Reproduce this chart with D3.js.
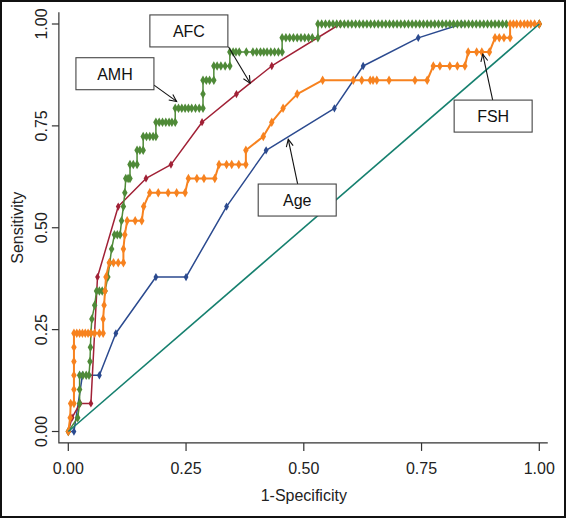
<!DOCTYPE html>
<html>
<head>
<meta charset="utf-8">
<script src="https://cdn.jsdelivr.net/npm/d3@7"></script>
<style>
html,body{margin:0;padding:0;background:#fff;}
svg{display:block;font-family:"Liberation Sans",Arial,sans-serif;}
</style>
</head>
<body>
<svg id="chart" width="566" height="518"></svg>
<script>
// ---- data ----
const xTicks = [0, 0.25, 0.5, 0.75, 1];
const yTicks = [0, 0.25, 0.5, 0.75, 1];
const xTickLabels = ["0.00", "0.25", "0.50", "0.75", "1.00"];
const yTickLabels = ["0.00", "0.25", "0.50", "0.75", "1.00"];
const xTitle = "1-Specificity";
const yTitle = "Sensitivity";

const reference = [[0,0],[1,1]];

const age = [[0,0],[0.012,0],[0.03,0.138],[0.066,0.138],[0.101,0.241],[0.186,0.379],[0.25,0.379],
  [0.336,0.552],[0.42,0.690],[0.565,0.793],[0.626,0.897],[0.743,0.966],[0.835,1.0],[1,1]];

const afc = [[0,0],[0.008,0.034],[0.025,0.069],[0.048,0.069],[0.062,0.379],[0.106,0.552],[0.165,0.621],
  [0.218,0.655],[0.284,0.759],[0.357,0.828],[0.432,0.897],[0.577,1.0],[1,1]];

const amh = [[0,0],[0.02,0.034],[0.024,0.069],[0.024,0.103],[0.024,0.138],[0.031,0.138],[0.038,0.138],[0.044,0.138],
  [0.046,0.172],[0.047,0.207],[0.048,0.241],[0.050,0.276],[0.056,0.310],[0.060,0.345],[0.066,0.345],[0.072,0.345],[0.078,0.345],
  [0.084,0.379],[0.088,0.414],[0.092,0.448],[0.098,0.483],[0.104,0.483],[0.110,0.483],[0.113,0.517],[0.117,0.552],
  [0.120,0.586],[0.122,0.621],[0.127,0.621],[0.131,0.621],[0.131,0.655],[0.138,0.655],[0.146,0.655],[0.146,0.690],
  [0.152,0.690],[0.159,0.690],[0.159,0.724],[0.166,0.724],[0.173,0.724],[0.180,0.724],[0.186,0.724],[0.186,0.759],
  [0.193,0.759],[0.200,0.759],[0.207,0.759],[0.214,0.759],[0.220,0.759],[0.227,0.759],[0.227,0.793],[0.234,0.793],
  [0.241,0.793],[0.248,0.793],[0.255,0.793],[0.262,0.793],[0.270,0.793],[0.278,0.793],[0.286,0.793],[0.286,0.828],
  [0.286,0.862],[0.293,0.862],[0.300,0.862],[0.309,0.862],[0.309,0.897],[0.316,0.897],[0.324,0.897],[0.333,0.897],
  [0.343,0.897],[0.343,0.931],[0.350,0.931],[0.356,0.931],[0.363,0.931],[0.378,0.931],[0.392,0.931],[0.400,0.931],
  [0.408,0.931],[0.415,0.931],[0.422,0.931],[0.430,0.931],[0.438,0.931],[0.446,0.931],[0.454,0.931],[0.454,0.966],
  [0.462,0.966],[0.470,0.966],[0.478,0.966],[0.486,0.966],[0.494,0.966],[0.502,0.966],[0.510,0.966],[0.518,0.966],
  [0.530,0.966],[0.530,1.0],[0.538,1],[0.546,1],[0.554,1],[0.562,1],[0.570,1],[0.578,1],[0.586,1],[0.594,1],
  [0.602,1],[0.610,1],[0.618,1],[0.626,1],[0.634,1],[0.642,1],[0.650,1],[0.658,1],[0.666,1],[0.674,1],[0.682,1],
  [0.690,1],[0.698,1],[0.706,1],[0.714,1],[0.722,1],[0.730,1],[0.738,1],[0.746,1],[0.754,1],[0.762,1],[0.770,1],
  [0.778,1],[0.786,1],[0.794,1],[0.802,1],[0.810,1],[0.818,1],[0.826,1],[0.834,1],[0.842,1],[0.850,1],[0.858,1],
  [0.866,1],[0.874,1],[0.882,1],[0.890,1],[0.898,1],[0.906,1],[0.914,1],[0.922,1],[0.930,1],[1,1]];

const fsh = [[0,0],[0.004,0.034],[0.005,0.069],[0.012,0.069],[0.012,0.103],[0.012,0.138],[0.012,0.172],[0.012,0.207],
  [0.012,0.241],[0.018,0.241],[0.024,0.241],[0.030,0.241],[0.036,0.241],[0.042,0.241],[0.048,0.241],[0.056,0.241],
  [0.066,0.241],[0.074,0.241],[0.074,0.276],[0.076,0.310],[0.078,0.345],[0.080,0.379],[0.087,0.414],[0.096,0.414],
  [0.106,0.414],[0.117,0.414],[0.117,0.448],[0.120,0.483],[0.125,0.517],[0.142,0.517],[0.156,0.517],[0.160,0.552],
  [0.173,0.586],[0.191,0.586],[0.212,0.586],[0.230,0.586],[0.248,0.586],[0.255,0.621],[0.273,0.621],[0.288,0.621],
  [0.311,0.621],[0.320,0.655],[0.336,0.655],[0.347,0.655],[0.362,0.655],[0.377,0.655],[0.377,0.690],[0.414,0.724],
  [0.432,0.759],[0.456,0.793],[0.486,0.828],[0.540,0.862],[0.605,0.862],[0.623,0.862],[0.641,0.862],[0.647,0.862],
  [0.655,0.862],[0.681,0.862],[0.736,0.862],[0.762,0.862],[0.775,0.897],[0.789,0.897],[0.810,0.897],[0.826,0.897],
  [0.842,0.897],[0.849,0.931],[0.867,0.931],[0.878,0.931],[0.894,0.931],[0.906,0.966],[0.915,0.966],[0.925,0.966],
  [0.938,0.966],[0.938,1],[0.945,1],[0.952,1],[0.960,1],[0.968,1],[0.975,1],[0.982,1],[0.990,1],[1,1]];

const seriesNames = ["Age", "AFC", "AMH", "FSH"];
// annotation: label, box centre (data units), arrow start and end (data units)
const annLabels = ["AFC", "AMH", "Age", "FSH"];
const annBox = [[0.256,0.983],[0.099,0.878],[0.486,0.568],[0.902,0.774]];
const annFrom = [[0.340,0.944],[0.182,0.850],[0.487,0.607],[0.901,0.813]];
const annTo = [[0.386,0.855],[0.230,0.810],[0.467,0.717],[0.880,0.926]];

// ---- drawing ----
const svg = d3.select("#chart");
const x = d3.scaleLinear().domain([0,1]).range([68.3, 539.3]);
const y = d3.scaleLinear().domain([0,1]).range([431.5, 24]);

// outer frame
svg.append("rect").attr("x",1).attr("y",1).attr("width",564).attr("height",516)
  .attr("fill","none").attr("stroke","#111").attr("stroke-width",2);

const axisColor = "#333";
svg.append("path")
  .attr("d", `M${x(-0.02)},${y(1.029)}V${y(-0.028)}H${x(1.018)}`)
  .attr("fill","none").attr("stroke",axisColor).attr("stroke-width",1.2);

const xAxisY = y(-0.028);
svg.append("g").selectAll("line").data(xTicks).join("line")
  .attr("x1",d=>x(d)).attr("x2",d=>x(d)).attr("y1",xAxisY).attr("y2",xAxisY+8)
  .attr("stroke",axisColor).attr("stroke-width",1.2);
svg.append("g").selectAll("text").data(xTicks).join("text")
  .attr("x",d=>x(d)).attr("y",474).attr("text-anchor","middle")
  .attr("font-size",16).attr("fill","#222").text((d,i)=>xTickLabels[i]);
svg.append("text").attr("x",x(0.5)).attr("y",501).attr("text-anchor","middle")
  .attr("font-size",16).attr("fill","#222").text(xTitle);

const yAxisX = x(-0.02);
svg.append("g").selectAll("line").data(yTicks).join("line")
  .attr("x1",yAxisX-7).attr("x2",yAxisX).attr("y1",d=>y(d)).attr("y2",d=>y(d))
  .attr("stroke",axisColor).attr("stroke-width",1.2);
svg.append("g").selectAll("text").data(yTicks).join("text")
  .attr("transform",d=>`translate(47,${y(d)}) rotate(-90)`)
  .attr("text-anchor","middle").attr("font-size",16).attr("fill","#222")
  .text((d,i)=>yTickLabels[i]);
svg.append("text").attr("transform",`translate(23,${y(0.5)}) rotate(-90)`)
  .attr("text-anchor","middle").attr("font-size",16).attr("fill","#222").text(yTitle);

const line = d3.line().x(d=>x(d[0])).y(d=>y(d[1]));

function drawSeries(data, color, width, symType, symSize) {
  const g = svg.append("g");
  g.append("path").datum(data).attr("d",line)
    .attr("fill","none").attr("stroke",color).attr("stroke-width",width)
    .attr("stroke-linejoin","round");
  g.selectAll("path.m").data(data).join("path").attr("class","m")
    .attr("transform",d=>`translate(${x(d[0])},${y(d[1])})`)
    .attr("d", d3.symbol().type(symType).size(symSize))
    .attr("fill",color);
}

drawSeries(age, "#2b4a8f", 1.5, d3.symbolDiamond, 20);
drawSeries(afc, "#a12136", 1.5, d3.symbolDiamond, 20);
drawSeries(amh, "#4f8a38", 1.5, d3.symbolDiamond, 26);
drawSeries(fsh, "#f7821f", 2, d3.symbolDiamond, 26);

svg.append("path").datum(reference).attr("d",line)
  .attr("fill","none").attr("stroke","#16806f").attr("stroke-width",1.6);

const boxW = 78, boxH = 32;
annLabels.forEach((lab,i)=>{
  const fx = x(annFrom[i][0]), fy = y(annFrom[i][1]);
  const tx = x(annTo[i][0]), ty = y(annTo[i][1]);
  svg.append("line").attr("x1",fx).attr("y1",fy).attr("x2",tx).attr("y2",ty)
    .attr("stroke","#111").attr("stroke-width",1.1);
  const ang = Math.atan2(ty-fy, tx-fx);
  const L = 8, spread = 0.45;
  const p1 = [tx - L*Math.cos(ang-spread), ty - L*Math.sin(ang-spread)];
  const p2 = [tx - L*Math.cos(ang+spread), ty - L*Math.sin(ang+spread)];
  svg.append("path").attr("d",`M${p1[0]},${p1[1]}L${tx},${ty}L${p2[0]},${p2[1]}`)
    .attr("fill","none").attr("stroke","#111").attr("stroke-width",1.1);
  const cx = x(annBox[i][0]), cy = y(annBox[i][1]);
  svg.append("rect").attr("x",cx-boxW/2).attr("y",cy-boxH/2).attr("width",boxW).attr("height",boxH)
    .attr("fill","#fff").attr("stroke","#444").attr("stroke-width",1.1);
  svg.append("text").attr("x",cx).attr("y",cy+6).attr("text-anchor","middle")
    .attr("font-size",16).attr("fill","#111").text(lab);
});
</script>
</body>
</html>
